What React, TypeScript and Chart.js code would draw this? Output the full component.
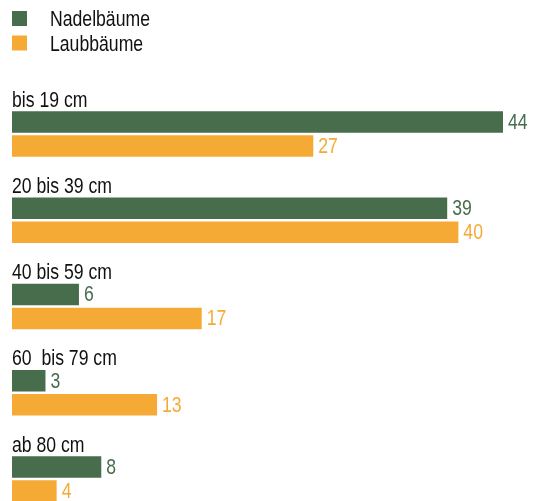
import React, { useEffect, useRef } from "react";
import { Chart, registerables } from "chart.js";

Chart.register(...registerables);

const categories = ["bis 19 cm", "20 bis 39 cm", "40 bis 59 cm", "60  bis 79 cm", "ab 80 cm"];
const seriesNames = ["Nadelbäume", "Laubbäume"];
const nadelValues = [44, 39, 6, 3, 8];
const laubValues = [27, 40, 17, 13, 4];
const seriesColors = ["#476D4C", "#F6AA36"];

const NARROW = 0.82;
const FONT = "21.5px 'Liberation Sans', Arial, sans-serif";

function narrowText(ctx: CanvasRenderingContext2D, text: string, x: number, y: number) {
  ctx.save();
  ctx.translate(x, y);
  ctx.scale(NARROW, 1);
  ctx.fillText(text, 0, 0);
  ctx.restore();
}

const labelPlugin = {
  id: "customLabels",
  afterDatasetsDraw(chart: any) {
    const ctx = chart.ctx as CanvasRenderingContext2D;
    const area = chart.chartArea;
    ctx.save();
    ctx.font = FONT;
    ctx.textAlign = "left";
    // category labels above each group
    const meta0 = chart.getDatasetMeta(0);
    ctx.fillStyle = "#111111";
    ctx.textBaseline = "alphabetic";
    meta0.data.forEach((bar: any, i: number) => {
      const top = bar.y - bar.height / 2;
      narrowText(ctx, String(chart.data.labels[i]), area.left, top - 4.5);
    });
    // value labels
    ctx.textBaseline = "middle";
    chart.data.datasets.forEach((ds: any, di: number) => {
      const meta = chart.getDatasetMeta(di);
      ctx.fillStyle = ds.backgroundColor;
      meta.data.forEach((bar: any, i: number) => {
        narrowText(ctx, String(ds.data[i]), bar.x + 5, bar.y + 1);
      });
    });
    // legend
    ctx.textBaseline = "alphabetic";
    chart.data.datasets.forEach((ds: any, di: number) => {
      const y = 11 + di * 24.5;
      ctx.fillStyle = ds.backgroundColor;
      ctx.fillRect(12, y, 15, 15);
      ctx.fillStyle = "#111111";
      narrowText(ctx, ds.label, 50, y + 15);
    });
    ctx.restore();
  },
};

export default function App() {
  const canvasRef = useRef<HTMLCanvasElement | null>(null);
  useEffect(() => {
    document.body.style.margin = "0";
    const canvas = canvasRef.current;
    if (!canvas) return;
    const chart = new Chart(canvas, {
      type: "bar",
      data: {
        labels: categories,
        datasets: [
          {
            label: seriesNames[0],
            data: nadelValues,
            backgroundColor: seriesColors[0],
            clip: false as any,
          },
          {
            label: seriesNames[1],
            data: laubValues,
            backgroundColor: seriesColors[1],
            clip: false as any,
          },
        ],
      },
      options: {
        indexAxis: "y",
        responsive: false,
        animation: false,
        devicePixelRatio: 1,
        layout: { padding: { top: 134, bottom: 22, left: 12, right: 30 } },
        datasets: {
          bar: { categoryPercentage: 0.5565, barPercentage: 0.9 },
        },
        scales: {
          x: { display: false, min: 0, max: 44 },
          y: { display: false, offset: false },
        },
        plugins: {
          legend: { display: false },
          tooltip: { enabled: false },
        },
      },
      plugins: [labelPlugin],
    });
    return () => chart.destroy();
  }, []);
  return (
    <div style={{ width: 533, height: 501 }}>
      <canvas ref={canvasRef} width={533} height={501} style={{ display: "block" }} />
    </div>
  );
}
